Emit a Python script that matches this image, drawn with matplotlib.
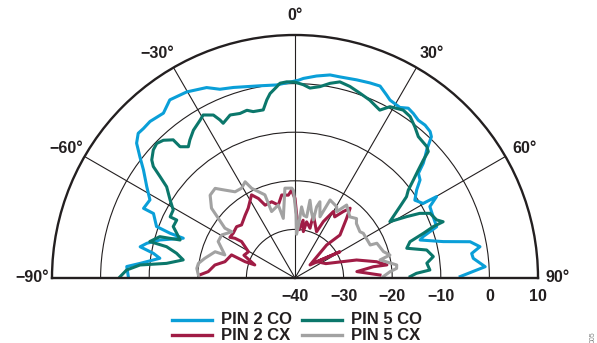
import numpy as np
import matplotlib
matplotlib.use("Agg")
import matplotlib.pyplot as plt
from matplotlib.lines import Line2D

plt.rcParams["font.family"] = ["Liberation Sans", "DejaVu Sans"]
plt.rcParams["font.weight"] = "bold"

# PIN 2 CO (angle deg, level dB)
pin2_co_theta = [-89.5, -86.1, -84.6, -81.7, -80.1, -78.6, -76.8, -74.3, -70.4, -70.3, -69.6, -65.5, -65.3,
                 -61.7, -58.4, -54.5, -52.0, -49.6, -47.3, -45.4, -42.8, -38.6, -35.1, -30.2, -24.9, -21.7,
                 -17.9, -10.3, -5.4, 1.0, 2.4, 6.1, 9.8, 12.6, 17.3, 21.0, 23.9, 26.6, 28.1, 31.6, 33.7, 35.7,
                 38.0, 40.4, 42.7, 44.0, 45.8, 47.0, 48.2, 49.7, 51.9, 54.1, 57.0, 59.8, 60.1, 62.1, 66.1,
                 70.1, 72.1, 73.1, 76.2, 78.3, 80.4, 82.1, 83.7, 86.6, 87.5, 89.5]
pin2_co_db = [-5.7, -5.3, -8.0, -11.9, -10.4, -7.5, -8.7, -11.1, -15.6, -12.7, -9.6, -8.0, -5.7,
              -6.1, -4.2, -1.7, 0.5, 2.8, 3.9, 3.8, 3.9, 3.4, 4.8, 4.3, 3.2, 1.8,
              1.2, 0.2, -0.1, 0.7, 1.1, 1.8, 2.4, 2.4, 2.7, 3.0, 3.2, 2.1, 1.5, 1.2, 2.0, 1.7,
              1.2, 1.3, 1.0, 0.4, -2.2, -3.4, -4.6, -6.7, -7.3, -9.1, -10.6, -9.5, -6.4, -8.6, -8.9,
              -9.0, -12.3, -13.1, -8.6, -3.2, -1.4, -3.3, -3.1, -0.8, -2.6, -6.0]

# PIN 2 CX
pin2_cx_theta = [-88.0, -85.8, -80.8, -76.9, -70.0, -71.9, -72.0, -66.0, -60.6, -55.7, -56.5, -58.0, -54.0,
                 -48.7, -45.2, -38.4, -33.8, -27.6, -24.7, -22.3, -17.0, -12.9, -9.1, -4.6, -2.2, -1.0,
                 0.0, 1.5, 5.0, 8.0, 10.2, 11.7, 16.8, 16.2, 20.0, 25.0, 26.7, 30.0, 33.0, 36.0, 38.3,
                 40.9, 46.3, 43.8, 49.0, 59.7, 53.0, 65.0, 73.7, 78.7, 81.9, 81.8, 84.1, 88.0]
pin2_cx_db = [-20.5, -22.1, -23.3, -25.2, -26.1, -29.2, -31.3, -28.5, -29.0, -26.7, -25.2, -24.2, -24.3,
              -24.0, -24.5, -23.5, -22.7, -20.7, -22.0, -23.8, -23.6, -24.6, -22.7, -22.9, -21.9, -23.0,
              -23.6, -27.0, -30.0, -28.0, -30.3, -28.2, -29.3, -26.5, -28.0, -29.5, -27.0, -24.2, -25.0,
              -23.1, -21.7, -23.8, -27.2, -30.6, -35.9, -29.3, -34.4, -33.0, -26.8, -22.9, -20.9, -23.7,
              -27.2, -22.5]

# PIN 5 CO
pin5_co_theta = [-89.6, -87.3, -85.2, -83.5, -80.8, -78.2, -76.3, -75.9, -73.0, -71.7, -69.3, -67.1, -63.9,
                 -63.9, -60.8, -58.0, -54.6, -53.1, -51.8, -50.5, -47.9, -45.8, -43.7, -41.4, -41.2, -39.1,
                 -37.3, -34.5, -31.0, -29.4, -26.6, -25.4, -24.9, -21.7, -18.5, -16.0, -14.1, -10.7, -9.0,
                 -7.7, -5.5, -4.4, -2.4, 0.0, 2.5, 4.5, 7.4, 10.2, 12.9, 16.0, 19.4, 22.8, 26.8, 29.0, 32.8,
                 35.5, 38.4, 41.1, 45.1, 46.5, 47.4, 48.8, 50.4, 52.2, 53.9, 55.8, 59.3, 61.2, 62.6, 64.4,
                 67.7, 69.2, 69.6, 70.8, 72.5, 75.1, 78.0, 81.2, 83.6, 86.6, 87.8, 89.3]
pin5_co_db = [-4.0, -5.3, -8.0, -13.4, -16.7, -15.1, -12.8, -9.2, -10.9, -15.1, -14.0, -12.8, -12.9,
              -11.4, -11.3, -9.7, -7.6, -5.3, -2.9, -1.8, -0.7, -0.3, -0.8, -2.1, -4.1, -5.2,
              -4.3, -3.1, -2.1, -1.5, -2.5, -4.0, -4.9, -3.9, -4.3, -4.1, -4.7, -4.8, -2.9,
              -1.7, -0.5, 0.2, 0.4, 0.3, -0.2, -0.8, -0.3, 0.7, 1.4, 1.0, 0.3, -0.3, -1.3, 0.3, 1.1,
              0.8, -0.3, -1.4, -1.7, -2.2, -4.1, -6.3, -8.4, -10.5, -11.6, -13.9, -17.3, -13.8, -11.1, -9.2,
              -8.5, -7.4, -9.6, -12.0, -15.2, -16.2, -12.3, -11.2, -12.7, -12.2, -15.0, -16.3]

# PIN 5 CX
pin5_cx_theta = [-88.2, -84.4, -81.4, -77.7, -71.8, -71.8, -64.6, -59.6, -53.8, -54.6, -52.1, -50.1, -45.7,
                 -41.7, -38.5, -34.8, -30.7, -27.4, -25.8, -19.9, -19.4, -12.9, -11.1, -6.4, -2.0, -1.0,
                 1.0, 2.0, 3.7, 5.3, 8.0, 10.8, 10.9, 14.0, 17.5, 16.9, 18.1, 22.2, 24.2, 30.3, 32.1, 35.3,
                 41.9, 46.0, 48.4, 54.5, 56.8, 66.3, 67.0, 73.4, 76.4, 78.0, 82.7, 84.6, 86.2, 89.0]
pin5_cx_db = [-20.1, -19.7, -19.9, -21.0, -22.7, -24.8, -22.5, -22.5, -23.9, -22.3, -20.0, -17.6, -15.6,
              -15.3, -16.9, -18.4, -18.5, -17.7, -19.5, -21.8, -25.5, -24.6, -27.5, -21.4, -21.5, -22.0,
              -27.0, -31.0, -29.4, -25.3, -27.0, -27.2, -23.7, -26.0, -27.5, -24.7, -23.5, -26.4, -22.4,
              -23.0, -23.9, -21.6, -23.1, -22.4, -23.1, -23.6, -23.2, -23.1, -21.7, -21.0, -19.9, -22.1,
              -18.9, -19.0, -20.4, -21.8]

series = [
    ("PIN 2 CO", pin2_co_theta, pin2_co_db, "#0a9fd8"),
    ("PIN 5 CO", pin5_co_theta, pin5_co_db, "#0b776b"),
    ("PIN 2 CX", pin2_cx_theta, pin2_cx_db, "#a01c45"),
    ("PIN 5 CX", pin5_cx_theta, pin5_cx_db, "#a2a2a2"),
]

angle_ticks = [-90, -60, -30, 0, 30, 60, 90]
radial_ticks = [-40, -30, -20, -10, 0, 10]
ink = "#231f20"

W, H = 597, 343
cx, cy, R = 295, 278, 243   # centre and outer radius in pixels

fig = plt.figure(figsize=(W / 100, H / 100), dpi=100)
# square box so the half disc fills its width; the wedge gets centred vertically in it
top = cy - R / 2 - R
ax = fig.add_axes([(cx - R) / W, 1 - (top + 2 * R) / H, 2 * R / W, 2 * R / H], projection="polar")
ax.set_theta_zero_location("N")
ax.set_theta_direction(-1)
ax.set_thetamin(-90)
ax.set_thetamax(90)
ax.set_rlim(-40, 10)

ax.set_thetagrids([-60, -30, 0, 30, 60], labels=[])
ax.set_rgrids([-30, -20, -10, 0], labels=[])
ax.grid(True, color=ink, linewidth=0.8)
for sp in ax.spines.values():
    sp.set_color(ink)
    sp.set_linewidth(1.7)

for name, th, db, col in series:
    ax.plot(np.deg2rad(th), db, color=col, linewidth=2.2, solid_joinstyle="round")

# angle labels outside the arc (small nudges to sit like the original)
nudge = {-90: 0.0, -60: -0.6, -30: -1.5, 0: 0.0, 30: 1.4, 60: 0.6, 90: 0.0}
for a in angle_ticks:
    lab = ("\u2212%d\u00b0" % -a) if a < 0 else "%d\u00b0" % a
    ax.text(np.deg2rad(a + nudge[a]), 14.1, lab, ha="center", va="center", fontsize=11.5,
            fontweight="bold", color=ink, clip_on=False)

# radial labels under the baseline
for v in radial_ticks:
    lab = ("\u2212%d" % -v) if v < 0 else "%d" % v
    ax.annotate(lab, xy=(np.deg2rad(90), v), xytext=(0, -8), textcoords="offset points",
                ha="center", va="top", fontsize=11.5, fontweight="bold", color=ink,
                annotation_clip=False)

# legend, two columns
cols_x = [172, 302]
rows_y = [320, 335]
order = [series[0], series[2], series[1], series[3]]
for i, (name, th, db, col) in enumerate(order):
    x0 = cols_x[i // 2]
    y0 = rows_y[i % 2]
    fig.add_artist(Line2D([x0 / W, (x0 + 40) / W], [1 - y0 / H] * 2,
                          color=col, linewidth=2.4, transform=fig.transFigure))
    fig.text((x0 + 49) / W, 1 - y0 / H, name, ha="left", va="center",
             fontsize=12, fontweight="bold", color=ink)

fig.text(593 / W, 0.0, "005", rotation=90, ha="center", va="bottom",
         fontsize=5, color="#808080", fontweight="normal")

fig.savefig("out.png", dpi=100)
